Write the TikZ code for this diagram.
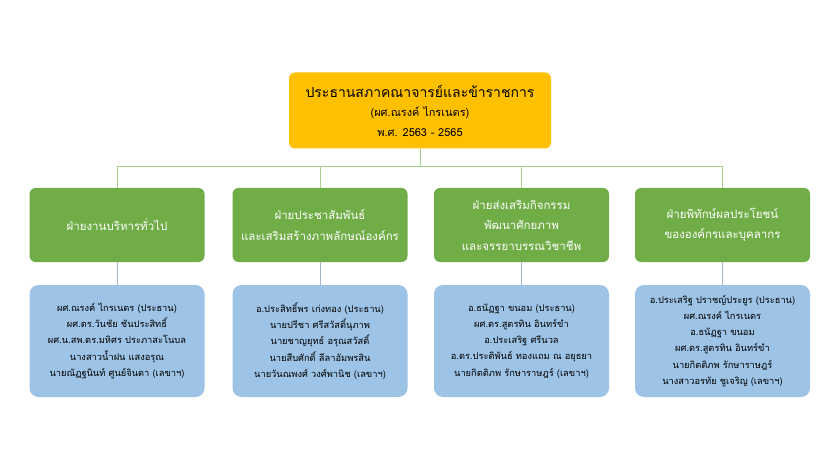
\documentclass[tikz,border=0pt]{standalone}
\usepackage{fontspec}
\newfontfamily\thaifont[Script=Thai]{Loma}
\definecolor{topyellow}{HTML}{FFC000}
\definecolor{boxgreen}{HTML}{70AD47}
\definecolor{boxblue}{HTML}{9DC3E6}
\definecolor{linegreen}{HTML}{A9D18E}
\definecolor{lineblue}{HTML}{9FB8D0}
\tikzset{
  topbox/.style={fill=topyellow, rounded corners=6pt, minimum width=262pt, minimum height=76pt, align=center, inner sep=0pt,
    font=\thaifont\fontsize{11}{19.5}\selectfont, text=black},
  greenbox/.style={fill=boxgreen, rounded corners=6pt, minimum width=175pt, minimum height=74pt, align=center, inner sep=0pt,
    font=\thaifont\fontsize{11.5}{20.5}\selectfont, text=white},
  bluebox/.style={fill=boxblue, rounded corners=9pt, minimum width=175pt, minimum height=112pt, align=center, inner sep=0pt,
    font=\thaifont\fontsize{9.3}{16.2}\selectfont, text=black},
  topline/.style={draw=linegreen, line width=1pt},
  lowline/.style={draw=lineblue, line width=1pt}
}
\begin{document}
\begin{tikzpicture}[x=1pt,y=-1pt]
\useasboundingbox (0,0) rectangle (840,473);
\fill[white] (0,0) rectangle (840,473);

\node[topbox] (top) at (420,110.5) {{\fontsize{14}{19.5}\selectfont ประธานสภาคณาจารย์และข้าราชการ}\\(ผศ.ณรงค์ ไกรเนตร)\\พ.ศ. 2563 - 2565};

\node[greenbox] (g1) at (117,225) {ฝ่ายงานบริหารทั่วไป};
\node[greenbox] (g2) at (320,225) {ฝ่ายประชาสัมพันธ์\\และเสริมสร้างภาพลักษณ์องค์กร};
\node[greenbox] (g3) at (521.5,225) {ฝ่ายส่งเสริมกิจกรรม\\พัฒนาศักยภาพ\\และจรรยาบรรณวิชาชีพ};
\node[greenbox] (g4) at (722.5,225) {ฝ่ายพิทักษ์ผลประโยชน์\\ขององค์กรและบุคลากร};

\node[bluebox] (b1) at (117,341) {ผศ.ณรงค์ ไกรเนตร (ประธาน)\\ผศ.ดร.วันชัย ชันประสิทธิ์\\ผศ.น.สพ.ดร.มหิศร ประภาสะโนบล\\นางสาวน้ำฝน แสงอรุณ\\นายณัฏฐนินท์ ศูนย์จินดา (เลขาฯ)};
\node[bluebox] (b2) at (320,341) {อ.ประสิทธิ์พร เก่งทอง (ประธาน)\\นายปรีชา ศรีสวัสดิ์นุภาพ\\นายชาญยุทธ์ อรุณสวัสดิ์\\นายสืบศักดิ์ ลีลาอัมพรสิน\\นายวันณพงศ์ วงศ์พานิช (เลขาฯ)};
\node[bluebox] (b3) at (521.5,341) {อ.ธนัฏฐา ขนอม (ประธาน)\\ผศ.ดร.สูตรทิน อินทร์ขำ\\อ.ประเสริฐ ศรีนวล\\อ.ดร.ประดิพันธ์ ทองแถม ณ อยุธยา\\นายกิตติภพ รักษาราษฎร์ (เลขาฯ)};
\node[bluebox] (b4) at (722.5,341) {อ.ประเสริฐ ปราชญ์ประยูร (ประธาน)\\ผศ.ณรงค์ ไกรเนตร\\อ.ธนัฏฐา ขนอม\\ผศ.ดร.สูตรทิน อินทร์ขำ\\นายกิตติภพ รักษาราษฎร์\\นางสาวอรทัย ชูเจริญ (เลขาฯ)};

\coordinate (bus) at (420,167);
\draw[topline] (top.south) -- (bus);
\foreach \g in {g1,g2,g3,g4} {\draw[topline] (\g.north) |- (bus);}
\foreach \i in {1,2,3,4} {\draw[lowline] (g\i.south) -- (b\i.north);}
\end{tikzpicture}
\end{document}
